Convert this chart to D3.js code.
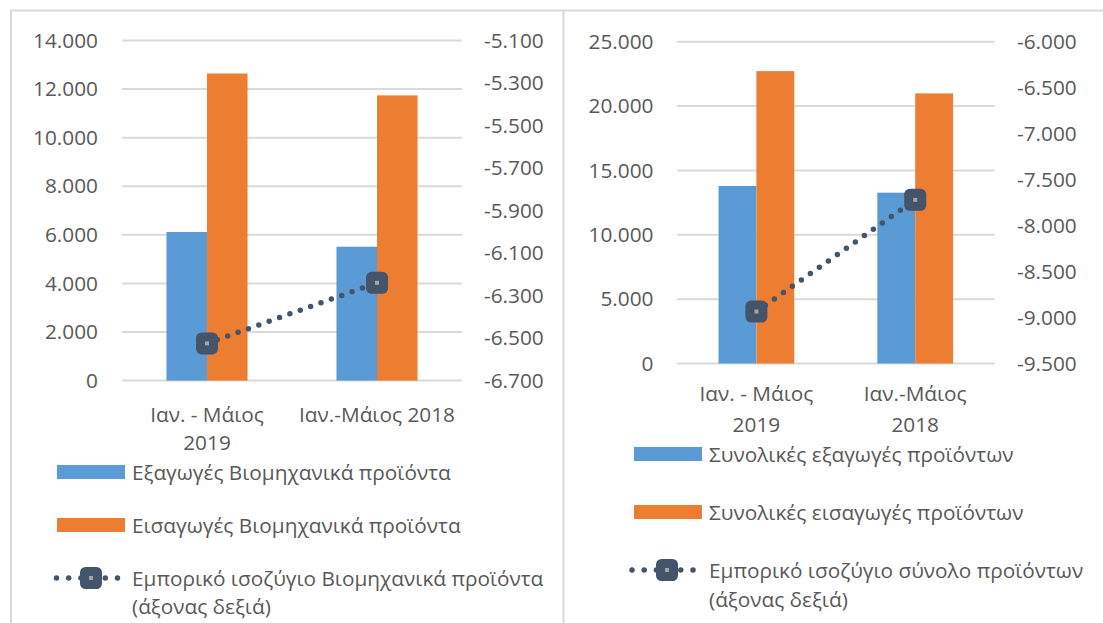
<!DOCTYPE html>
<html>
<head>
<meta charset="utf-8">
<script src="https://cdn.jsdelivr.net/npm/d3@7"></script>
<style>
  html, body { margin: 0; padding: 0; background: #ffffff; }
  svg { display: block; }
  text { font-family: "Open Sans", "Noto Sans", sans-serif; fill: #595959; }
</style>
</head>
<body>
<svg id="chart" width="1103" height="623"></svg>
<script>
// ---------- DATA ----------
// Left panel: industrial products
const leftCategories = [["Ιαν. - Μάιος", "2019"], ["Ιαν.-Μάιος 2018"]];
const leftExports = [6117, 5512];
const leftImports = [12642, 11741];
const leftBalance = [-6525, -6240];
const leftAxisTicks = [0, 2000, 4000, 6000, 8000, 10000, 12000, 14000];
const leftRightAxisTicks = [-6700, -6500, -6300, -6100, -5900, -5700, -5500, -5300, -5100];
const leftLegend = ["Εξαγωγές Βιομηχανικά προϊόντα", "Εισαγωγές Βιομηχανικά προϊόντα",
                    ["Εμπορικό ισοζύγιο Βιομηχανικά προϊόντα", "(άξονας δεξιά)"]];

// Right panel: total products
const rightCategories = [["Ιαν. - Μάιος", "2019"], ["Ιαν.-Μάιος", "2018"]];
const rightExports = [13790, 13269];
const rightImports = [22715, 20984];
const rightBalance = [-8935, -7720];
const rightAxisTicks = [0, 5000, 10000, 15000, 20000, 25000];
const rightRightAxisTicks = [-9500, -9000, -8500, -8000, -7500, -7000, -6500, -6000];
const rightLegend = ["Συνολικές εξαγωγές προϊόντων", "Συνολικές εισαγωγές προϊόντων",
                     ["Εμπορικό ισοζύγιο σύνολο προϊόντων", "(άξονας δεξιά)"]];

// ---------- STYLE ----------
const COLORS = { exp: "#5B9BD5", imp: "#ED7D31", bal: "#44546A", grid: "#D9D9D9", border: "#D9D9D9" };
const FONT_SIZE = 20.8;

const locale = d3.formatLocale({ decimal: ",", thousands: ".", grouping: [3], currency: ["", "€"], minus: "-" });
const fmt = locale.format(",");

const svg = d3.select("#chart");

// Panel borders
svg.append("line").attr("x1", 11).attr("x2", 1103).attr("y1", 10.5).attr("y2", 10.5)
  .attr("stroke", COLORS.border).attr("stroke-width", 2);
svg.append("line").attr("x1", 11).attr("x2", 11).attr("y1", 10).attr("y2", 623)
  .attr("stroke", COLORS.border).attr("stroke-width", 2);
svg.append("line").attr("x1", 563.5).attr("x2", 563.5).attr("y1", 10).attr("y2", 623)
  .attr("stroke", COLORS.border).attr("stroke-width", 2);

function marker(g, cx, cy) {
  g.append("rect").attr("x", cx - 11).attr("y", cy - 11).attr("width", 22).attr("height", 22)
    .attr("rx", 5.5).attr("fill", COLORS.bal);
  g.append("rect").attr("x", cx - 2).attr("y", cy - 2).attr("width", 4).attr("height", 4)
    .attr("fill", "#A5A5A5");
}

function drawPanel(cfg) {
  const g = svg.append("g");
  const x = d3.scaleBand().domain(d3.range(cfg.categories.length)).range([cfg.x0, cfg.x1]).padding(0);
  const y = d3.scaleLinear().domain([0, d3.max(cfg.leftTicks)]).range([cfg.yBottom, cfg.yTop]);
  const y2 = d3.scaleLinear().domain(d3.extent(cfg.rightTicks)).range([cfg.yBottom, cfg.yTop]);
  const barW = x.bandwidth() * 0.2385;

  const leftAxis = d3.axisLeft(y).tickValues(cfg.leftTicks).tickFormat(fmt).tickSize(0).tickPadding(0);
  const gl = g.append("g").attr("transform", `translate(${cfg.leftLabelX},0)`).call(leftAxis);
  gl.select(".domain").remove();
  gl.selectAll("text").attr("font-size", FONT_SIZE).attr("fill", "#595959")
    .style("font-family", '"Open Sans", sans-serif');

  // gridlines
  g.append("g").selectAll("line").data(cfg.leftTicks).join("line")
    .attr("x1", cfg.x0).attr("x2", cfg.x1)
    .attr("y1", d => y(d)).attr("y2", d => y(d))
    .attr("stroke", COLORS.grid).attr("stroke-width", 2);

  const rightAxis = d3.axisRight(y2).tickValues(cfg.rightTicks).tickFormat(fmt).tickSize(0).tickPadding(0);
  const gr = g.append("g").attr("transform", `translate(${cfg.rightLabelX},0)`).call(rightAxis);
  gr.select(".domain").remove();
  gr.selectAll("text").attr("font-size", FONT_SIZE).attr("fill", "#595959")
    .style("font-family", '"Open Sans", sans-serif');

  // bars
  const series = [
    { key: "exp", values: cfg.exports, color: COLORS.exp },
    { key: "imp", values: cfg.imports, color: COLORS.imp }
  ];
  series.forEach((s, si) => {
    g.append("g").selectAll("rect").data(s.values).join("rect")
      .attr("x", (d, i) => x(i) + x.bandwidth() / 2 - barW + si * barW)
      .attr("width", barW)
      .attr("y", d => y(d))
      .attr("height", d => y(0) - y(d))
      .attr("fill", s.color);
  });

  // balance line
  const line = d3.line().x((d, i) => x(i) + x.bandwidth() / 2).y(d => y2(d));
  g.append("path").datum(cfg.balance).attr("d", line)
    .attr("fill", "none").attr("stroke", COLORS.bal).attr("stroke-width", 5.5)
    .attr("stroke-linecap", "round").attr("stroke-dasharray", "0 11");
  cfg.balance.forEach((d, i) => marker(g, x(i) + x.bandwidth() / 2, y2(d)));

  // category labels
  cfg.categories.forEach((lines, i) => {
    const t = g.append("text").attr("text-anchor", "middle").attr("font-size", FONT_SIZE);
    lines.forEach((ln, li) => {
      t.append("tspan").attr("x", x(i) + x.bandwidth() / 2)
        .attr("y", cfg.catY + li * cfg.catLH).attr("dominant-baseline", "central").text(ln);
    });
  });

  // legend
  const L = cfg.legend;
  [COLORS.exp, COLORS.imp].forEach((c, i) => {
    g.append("rect").attr("x", L.swX).attr("y", L.rows[i] - 7).attr("width", L.swW).attr("height", 14).attr("fill", c);
    g.append("text").attr("x", L.textX).attr("y", L.rows[i]).attr("dominant-baseline", "central")
      .attr("font-size", FONT_SIZE).text(cfg.legendLabels[i]);
  });
  const ly = L.rows[2];
  g.append("line").attr("x1", L.dotX0).attr("x2", L.dotX1).attr("y1", ly).attr("y2", ly)
    .attr("stroke", COLORS.bal).attr("stroke-width", 5.5).attr("stroke-linecap", "round")
    .attr("stroke-dasharray", "0 12.2");
  marker(g, L.markX, ly);
  const lt = g.append("text").attr("font-size", FONT_SIZE);
  cfg.legendLabels[2].forEach((ln, li) => {
    lt.append("tspan").attr("x", L.textX).attr("y", ly + li * L.lh).attr("dominant-baseline", "central").text(ln);
  });
}

drawPanel({
  categories: leftCategories, exports: leftExports, imports: leftImports, balance: leftBalance,
  leftTicks: leftAxisTicks, rightTicks: leftRightAxisTicks, legendLabels: leftLegend,
  x0: 122, x1: 462, yTop: 40.5, yBottom: 380.6,
  leftLabelX: 98, rightLabelX: 484,
  catY: 414, catLH: 28,
  legend: { swX: 57, swW: 68, textX: 132, rows: [472, 525, 578], dotX0: 56.5, dotX1: 118, markX: 91, lh: 28 }
});

drawPanel({
  categories: rightCategories, exports: rightExports, imports: rightImports, balance: rightBalance,
  leftTicks: rightAxisTicks, rightTicks: rightRightAxisTicks, legendLabels: rightLegend,
  x0: 677, x1: 994.6, yTop: 41.7, yBottom: 363.5,
  leftLabelX: 653.5, rightLabelX: 1017,
  catY: 393, catLH: 31,
  legend: { swX: 634, swW: 68, textX: 709, rows: [454, 512, 570], dotX0: 632, dotX1: 694, markX: 667, lh: 29 }
});
</script>
</body>
</html>
